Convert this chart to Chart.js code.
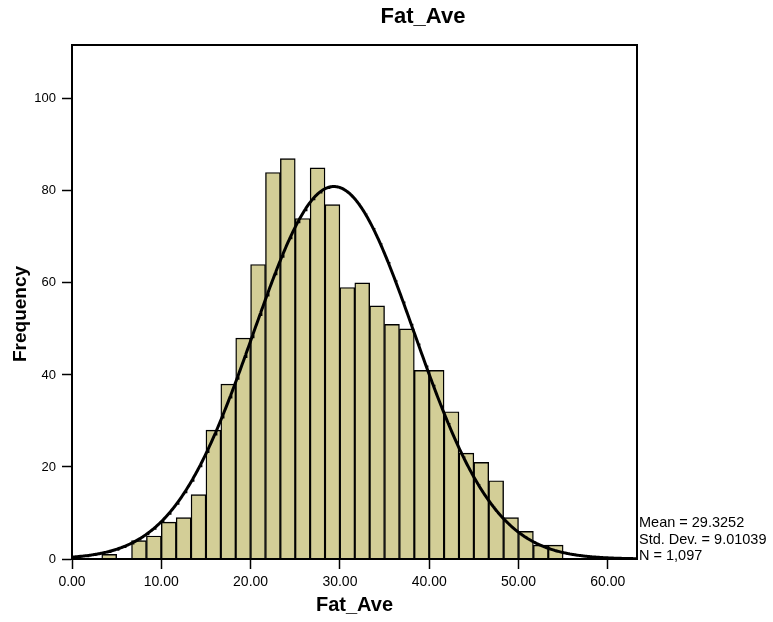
<!DOCTYPE html>
<html>
<head>
<meta charset="utf-8">
<script src="https://cdn.jsdelivr.net/npm/chart.js@4"></script>
<style>
  html, body { margin: 0; padding: 0; background: #ffffff; }
  #wrap { width: 773px; height: 622px; }
</style>
</head>
<body>
<div id="wrap"><canvas id="chart" width="773" height="622"></canvas></div>
<script>
// Histogram of Fat_Ave: 31 bins of width 5/3 starting at 10/3
const binStart = 10 / 3;
const binWidth = 5 / 3;
const frequencies = [1, 0, 4, 5, 8, 9, 14, 28, 38, 48, 64, 84, 87, 74, 85, 77,
                     59, 60, 55, 51, 50, 41, 41, 32, 23, 21, 17, 9, 6, 3, 3];

// Summary statistics shown beside the plot
const meanValue = 29.3252;
const stdDev = 9.01039;
const countN = 1097;
const statLines = ['Mean = 29.3252', 'Std. Dev. = 9.01039', 'N = 1,097'];

// Axis ticks
const xTickValues = [0, 10, 20, 30, 40, 50, 60];
const yTickValues = [0, 20, 40, 60, 80, 100];
const xRange = [0, 63.27];
const yRange = [0, 111.7];

const chartTitle = 'Fat_Ave';
const xTitle = 'Fat_Ave';
const yTitle = 'Frequency';

const FONT = "'Liberation Sans', Arial, Helvetica, sans-serif";

const barPoints = frequencies.map((f, i) => ({ x: binStart + (i + 0.5) * binWidth, y: f }));

// Normal curve scaled to counts per bin
const curvePoints = [];
for (let k = 0; k <= 640; k++) {
  const x = xRange[0] + (xRange[1] - xRange[0]) * k / 640;
  const z = (x - meanValue) / stdDev;
  const y = countN * binWidth * Math.exp(-0.5 * z * z) / (stdDev * Math.sqrt(2 * Math.PI));
  curvePoints.push({ x, y });
}

const frameAndNotes = {
  id: 'frameAndNotes',
  afterDatasetsDraw(chart) {
    const { ctx, chartArea: a } = chart;
    ctx.save();
    ctx.strokeStyle = '#000';
    ctx.lineWidth = 2;
    ctx.strokeRect(a.left, a.top, a.right - a.left, a.bottom - a.top);
    ctx.restore();
  },
  afterDraw(chart) {
    const { ctx, chartArea: a } = chart;
    ctx.save();
    ctx.fillStyle = '#000';

    // chart title
    ctx.font = 'bold 22px ' + FONT;
    ctx.textAlign = 'center';
    ctx.textBaseline = 'middle';
    ctx.fillText(chartTitle, 423, 17);

    // summary statistics
    ctx.font = '14.5px ' + FONT;
    ctx.textAlign = 'left';
    ctx.textBaseline = 'alphabetic';
    const base = [a.bottom - 32, a.bottom - 15, a.bottom + 1];
    statLines.forEach((t, i) => ctx.fillText(t, a.right + 2, base[i]));

    // vertical axis title
    ctx.translate(21, 314);
    ctx.rotate(-Math.PI / 2);
    ctx.font = 'bold 19px ' + FONT;
    ctx.textAlign = 'center';
    ctx.textBaseline = 'middle';
    ctx.fillText(yTitle, 0, 0);
    ctx.restore();
  }
};

new Chart(document.getElementById('chart'), {
  type: 'bar',
  data: {
    datasets: [
      {
        type: 'line',
        data: curvePoints,
        borderColor: '#000000',
        borderWidth: 3,
        pointRadius: 0,
        tension: 0,
        fill: false,
        order: 0
      },
      {
        type: 'bar',
        data: barPoints,
        backgroundColor: 'rgb(211,206,151)',
        borderColor: '#000000',
        borderWidth: 1.4,
        borderSkipped: 'start',
        barPercentage: 1,
        categoryPercentage: 1,
        grouped: false,
        order: 1
      }
    ]
  },
  options: {
    responsive: false,
    animation: false,
    devicePixelRatio: 1,
    layout: { padding: { left: 0, right: 136, top: 45, bottom: 0 } },
    plugins: {
      legend: { display: false },
      tooltip: { enabled: false },
      title: { display: false }
    },
    scales: {
      x: {
        type: 'linear',
        min: xRange[0],
        max: xRange[1],
        offset: false,
        afterFit(scale) { scale.height = 63; },
        afterBuildTicks(scale) { scale.ticks = xTickValues.map(v => ({ value: v })); },
        grid: { display: true, drawOnChartArea: false, drawTicks: true, tickLength: 10, tickWidth: 1.5, tickColor: '#000', offset: false },
        border: { display: true, color: '#000', width: 2 },
        ticks: {
          color: '#000',
          padding: 5,
          maxRotation: 0,
          font: { family: FONT, size: 14 },
          callback: v => Number(v).toFixed(2)
        },
        title: {
          display: true,
          text: xTitle,
          color: '#000',
          font: { family: FONT, size: 20, weight: 'bold' },
          padding: { top: 0, bottom: 5 }
        }
      },
      y: {
        type: 'linear',
        min: yRange[0],
        max: yRange[1],
        afterFit(scale) { scale.width = 72; },
        afterBuildTicks(scale) { scale.ticks = yTickValues.map(v => ({ value: v })); },
        grid: { display: true, drawOnChartArea: false, drawTicks: true, tickLength: 10, tickWidth: 1.5, tickColor: '#000' },
        border: { display: true, color: '#000', width: 2 },
        ticks: {
          color: '#000',
          padding: 6,
          font: { family: FONT, size: 13 }
        }
      }
    }
  },
  plugins: [frameAndNotes]
});
</script>
</body>
</html>
